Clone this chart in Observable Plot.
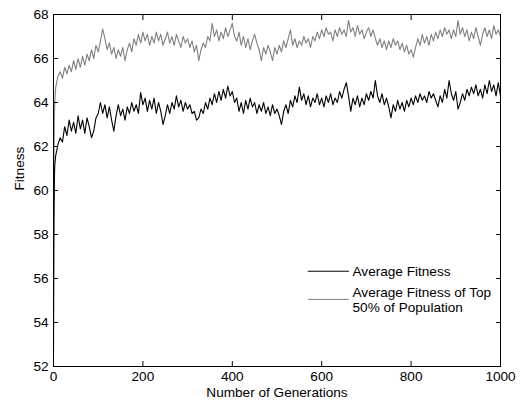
<!DOCTYPE html>
<html>
<head>
<meta charset="utf-8">
<script src="https://cdn.jsdelivr.net/npm/d3@7"></script>
<script src="https://cdn.jsdelivr.net/npm/@observablehq/plot@0.6"></script>
<style>
  html, body { margin: 0; padding: 0; background: #fff; }
  #chart svg { display: block; }
</style>
</head>
<body>
<div id="chart"></div>
<script>
// Generations: first few individual generations, then every 5th generation
const earlyGenerations = [0, 1, 2, 3];
const sampledGenerations = d3.range(5, 1001, 5);

// Average fitness (black)
const avgEarly = [52.6, 58.5, 60.6, 61.2];
const avgFitness = [
  61.6, 62.1, 62.4, 62.2, 62.9, 62.5, 63.2, 62.7, 63.1, 62.6,
  63.4, 62.8, 63.2, 62.6, 63.3, 62.9, 62.4, 62.7, 63.3, 63.5,
  64.0, 63.5, 63.9, 63.3, 63.8, 63.2, 62.7, 63.4, 63.9, 63.4,
  63.7, 63.2, 63.8, 63.5, 64.0, 63.6, 63.9, 63.5, 64.45, 63.9,
  64.2, 63.6, 64.1, 63.7, 64.2, 63.5, 64.0, 63.6, 63.0, 63.4,
  63.9, 63.5, 64.0, 63.7, 64.3, 63.8, 64.1, 63.6, 64.0, 63.7,
  63.9, 63.5, 63.6, 63.2, 63.3, 63.7, 63.5, 64.0, 63.7, 64.2,
  63.9, 64.4, 64.0, 64.5, 64.1, 64.6, 64.2, 64.75, 64.3, 64.5,
  64.0, 64.2, 63.6, 64.0, 63.5, 64.1, 63.7, 64.2, 63.8, 64.0,
  63.5, 63.9, 63.6, 64.0, 63.5, 63.8, 63.4, 63.9, 63.5, 63.7,
  63.4, 63.0, 63.6, 63.9, 63.5, 64.1, 63.8, 64.3, 64.0, 64.7,
  64.1, 64.4, 63.9, 64.3, 63.8, 64.2, 64.0, 64.4, 63.9, 64.2,
  63.8, 64.3, 64.0, 64.4, 63.9, 64.2, 64.0, 64.5, 64.2, 64.6,
  64.9, 64.3, 63.6, 64.2, 63.9, 64.3, 63.8, 64.2, 63.9, 64.4,
  64.1, 64.5, 64.2, 65.0, 64.3, 64.0, 64.4, 63.9, 64.2, 63.8,
  63.3, 63.9, 63.6, 64.1, 63.7, 64.0, 63.6, 64.1, 63.8, 64.2,
  63.9, 64.3, 64.0, 64.4, 64.1, 64.3, 64.0, 64.5, 64.2, 64.4,
  64.1, 63.8, 64.3, 64.0, 64.6, 64.2, 65.0, 64.4, 64.1, 64.5,
  63.7, 64.0, 64.4, 64.1, 64.6, 64.3, 64.7, 64.4, 64.8, 64.3,
  64.6, 64.2, 64.8, 64.4, 65.0, 64.5, 64.8, 64.3, 64.9, 64.3
];

// Average fitness of top 50% of population (grey)
const topEarly = [56.0, 61.5, 63.4, 64.1];
const topFitness = [
  64.7, 65.2, 65.4, 65.1, 65.6, 65.3, 65.7, 65.4, 65.9, 65.5,
  66.0, 65.6, 66.1, 65.7, 66.2, 65.9, 66.4, 66.0, 66.6, 66.3,
  66.8, 67.35, 66.9, 66.4, 66.7, 66.2, 66.5, 66.0, 66.4, 66.1,
  66.5, 65.9, 66.4, 66.7, 66.3, 66.9, 66.6, 67.1, 66.7, 67.2,
  66.8, 67.1, 66.6, 67.0, 66.7, 67.2, 66.8, 67.1, 66.6, 66.9,
  67.2, 66.7, 67.0, 66.6, 67.1, 66.8, 66.5, 67.0, 66.7, 66.9,
  66.5, 66.8, 66.3, 66.6, 65.9, 66.4, 66.7, 66.5, 67.0, 66.8,
  67.6, 67.0, 67.3, 66.8, 67.2, 66.9, 67.4, 67.0, 67.3, 67.6,
  67.0, 66.8, 67.2, 66.6, 67.0, 66.5, 66.9, 66.4, 66.8, 67.1,
  66.7, 66.4, 65.9, 66.5, 66.2, 66.6, 66.3, 65.9, 66.5, 66.2,
  66.6, 66.3, 66.8, 66.5, 66.9, 67.3, 66.6, 66.9, 66.5, 66.8,
  66.6, 67.0, 66.7, 66.9, 66.5, 67.0, 66.8, 67.2, 66.9, 67.3,
  67.0, 67.4, 67.1, 67.2, 66.8, 67.3, 67.0, 67.4, 67.1, 67.3,
  67.0, 67.73, 67.2, 67.4, 67.0, 67.5, 67.1, 67.3, 66.9, 67.2,
  67.4, 67.0, 67.3, 66.9, 66.6, 66.9, 66.5, 66.8, 66.4, 66.8,
  66.5, 66.9, 66.6, 66.8, 66.4, 66.7, 66.3, 66.6, 66.2, 66.4,
  66.06, 66.5, 66.9, 66.6, 67.1, 66.7, 67.0, 66.6, 67.1, 66.8,
  67.2, 66.9, 67.3, 67.0, 67.4, 67.1, 67.3, 66.9, 67.3, 67.0,
  67.73, 67.1, 67.4, 67.0, 67.3, 66.8, 67.2, 66.9, 67.4, 67.0,
  66.6, 67.1, 67.4, 67.0, 67.3, 66.9, 67.5, 67.1, 67.3, 67.0
];

const xTicks = [0, 200, 400, 600, 800, 1000];
const yTicks = [52, 54, 56, 58, 60, 62, 64, 66, 68];

const legendNames = ["Average Fitness", "Average Fitness of Top\n50% of Population"];
const legendColors = ["#000000", "#808080"];

const gens = earlyGenerations.concat(sampledGenerations);
const avgAll = avgEarly.concat(avgFitness);
const topAll = topEarly.concat(topFitness);
const avgData = gens.map((g, i) => ({gen: g, value: avgAll[i]}));
const topData = gens.map((g, i) => ({gen: g, value: topAll[i]}));

// legend anchor (data units inside the axes)
const legendX1 = 570, legendX2 = 662, legendTextX = 669;
const legendY = [56.33, 55.05];
const legend = legendNames.map((name, i) => ({name, color: legendColors[i], y: legendY[i]}));

const chart = Plot.plot({
  width: 521,
  height: 403,
  marginTop: 14,
  marginRight: 21,
  marginBottom: 37,
  marginLeft: 53,
  x: {domain: [0, 1000]},
  y: {domain: [52, 68]},
  style: {fontFamily: "'Liberation Sans', Arial, Helvetica, sans-serif", fontSize: "13.6px", background: "#fff", color: "#000"},
  marks: [
    Plot.line(topData, {x: "gen", y: "value", stroke: legendColors[1], strokeWidth: 1.1}),
    Plot.line(avgData, {x: "gen", y: "value", stroke: legendColors[0], strokeWidth: 1.1}),
    Plot.frame({stroke: "#000", strokeWidth: 1}),
    Plot.axisX(xTicks, {anchor: "bottom", tickSize: -5, tickPadding: 10, tickFormat: d3.format("d"), label: null, stroke: "#000"}),
    Plot.axisX(xTicks, {anchor: "top", tickSize: -5, tickFormat: () => "", label: null, stroke: "#000"}),
    Plot.axisY(yTicks, {anchor: "left", tickSize: -5, tickPadding: 10, label: null, stroke: "#000"}),
    Plot.axisY(yTicks, {anchor: "right", tickSize: -5, tickFormat: () => "", label: null, stroke: "#000"}),
    Plot.text(["Fitness"], {text: d => d, frameAnchor: "left", dx: -34, rotate: -90, fill: "#000"}),
    Plot.text(["Number of Generations"], {text: d => d, frameAnchor: "bottom", dy: 30, fill: "#000"}),
    Plot.ruleY(legend, {y: "y", x1: legendX1, x2: legendX2, stroke: "color", strokeWidth: 1}),
    Plot.text(legend, {x: legendTextX, y: "y", text: "name", textAnchor: "start", lineHeight: 1.12, fill: "#000"})
  ]
});
document.getElementById("chart").appendChild(chart);
</script>
</body>
</html>
